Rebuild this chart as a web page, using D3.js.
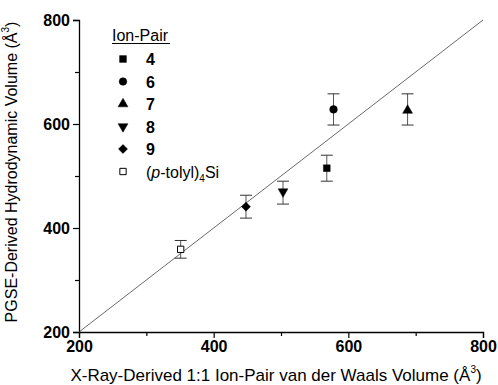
<!DOCTYPE html>
<html>
<head>
<meta charset="utf-8">
<script src="https://cdn.jsdelivr.net/npm/d3@7"></script>
<style>
  body { margin: 0; background: #fff; }
  svg { display: block; font-family: "Liberation Sans", Arial, sans-serif; }
</style>
</head>
<body>
<div id="chart"></div>
<script>
// values
const pairLabels = ['4', '6', '7', '8', '9', '(p-tolyl)4Si'];
const markerKinds = ['square', 'circle', 'triangle', 'down', 'diamond', 'open'];
const xRayVolume = [568, 578, 688, 503, 448, 351];
const pgseVolume = [515, 628, 628, 468, 441, 359];
const pgseError = [25, 30, 30, 22, 22, 17];
const majorTicks = [200, 400, 600, 800];
const minorTicks = [300, 500, 700];

const width = 498, height = 385;
const margin = { top: 20, right: 15, bottom: 53, left: 79 };
const FONT = '"Liberation Sans", Arial, sans-serif';

const svg = d3.select('#chart').append('svg')
    .attr('width', width)
    .attr('height', height);

const x = d3.scaleLinear().domain([200, 800]).range([margin.left, 483]);
const y = d3.scaleLinear().domain([200, 800]).range([332, margin.top]);

// axes: minor ticks in their own group, no domain line there
svg.append('g')
    .attr('transform', `translate(0,${y(200)})`)
    .call(d3.axisBottom(x).tickValues(minorTicks).tickSize(4).tickFormat(''))
    .call((g) => g.select('.domain').remove());
svg.append('g')
    .attr('transform', `translate(${x(200)},0)`)
    .call(d3.axisLeft(y).tickValues(minorTicks).tickSize(4).tickFormat(''))
    .call((g) => g.select('.domain').remove());

const xAxis = svg.append('g')
    .attr('transform', `translate(0,${y(200)})`)
    .call(d3.axisBottom(x).tickValues(majorTicks).tickSize(6).tickPadding(3).tickFormat(d3.format('d')));
const yAxis = svg.append('g')
    .attr('transform', `translate(${x(200)},0)`)
    .call(d3.axisLeft(y).tickValues(majorTicks).tickSize(6).tickPadding(3).tickFormat(d3.format('d')));

[xAxis, yAxis].forEach((g) => {
    g.attr('font-family', FONT).attr('font-size', 16).attr('font-weight', 'bold');
    g.selectAll('.tick text').attr('fill', '#000');
});
svg.selectAll('.tick line').attr('stroke', '#000').attr('stroke-width', 1.2);
svg.selectAll('.domain').attr('stroke', '#000').attr('stroke-width', 1.3);

// y = x reference line
svg.append('line')
    .attr('x1', x(200)).attr('y1', y(200))
    .attr('x2', x(800)).attr('y2', y(800))
    .attr('stroke', '#444')
    .attr('stroke-width', 0.8);

// error bars
const points = pairLabels.map((label, i) => ({
    label: label,
    kind: markerKinds[i],
    xv: xRayVolume[i],
    yv: pgseVolume[i],
    err: pgseError[i]
}));

const bars = svg.append('g');
points.forEach((p) => {
    const cx = x(p.xv);
    bars.append('line')
        .attr('x1', cx).attr('x2', cx)
        .attr('y1', y(p.yv - p.err)).attr('y2', y(p.yv + p.err))
        .attr('stroke', '#555').attr('stroke-width', 1);
    [p.yv - p.err, p.yv + p.err].forEach((v) => {
        bars.append('line')
            .attr('x1', cx - 6).attr('x2', cx + 6)
            .attr('y1', y(v)).attr('y2', y(v))
            .attr('stroke', '#333').attr('stroke-width', 1);
    });
});

function markerPath(kind) {
    if (kind === 'circle') return d3.symbol(d3.symbolCircle, 46)();
    if (kind === 'triangle' || kind === 'down') return d3.symbol(d3.symbolTriangle, 42)();
    if (kind === 'diamond') return d3.symbol(d3.symbolSquare, 40)();
    if (kind === 'open') return d3.symbol(d3.symbolSquare, 40)();
    return d3.symbol(d3.symbolSquare, 46)();
}
function markerRotate(kind) {
    if (kind === 'down') return 180;
    if (kind === 'diamond') return 45;
    return 0;
}

function drawMarker(g, kind, px, py) {
    g.append('path')
        .attr('d', markerPath(kind))
        .attr('transform', `translate(${px},${py}) rotate(${markerRotate(kind)})`)
        .attr('fill', kind === 'open' ? '#fff' : '#000')
        .attr('stroke', '#000')
        .attr('stroke-width', kind === 'open' ? 1 : 0.5);
}

const marks = svg.append('g');
points.forEach((p) => {
    drawMarker(marks, p.kind, x(p.xv), y(p.yv) + (p.kind === 'triangle' ? 1 : p.kind === 'down' ? -1 : 0));
});

// legend
const legend = svg.append('g').attr('transform', 'translate(112,0)');
legend.append('text')
    .attr('x', 0).attr('y', 40.5)
    .style('font-size', '16px')
    .text('Ion-Pair');
legend.append('line')
    .attr('x1', 0).attr('x2', 58)
    .attr('y1', 43.5).attr('y2', 43.5)
    .attr('stroke', '#000').attr('stroke-width', 1);

points.forEach((p, i) => {
    const ly = 59 + i * 22.5;
    drawMarker(legend, p.kind, 11, ly);
    const t = legend.append('text')
        .attr('x', 34).attr('y', ly + 6)
        .style('font-size', '16px');
    if (p.kind === 'open') {
        t.append('tspan').text('(');
        t.append('tspan').style('font-style', 'italic').text('p');
        t.append('tspan').text('-tolyl)');
        t.append('tspan').attr('dy', 4).style('font-size', '10px').text('4');
        t.append('tspan').attr('dy', -4).text('Si');
    } else {
        t.style('font-weight', 'bold').text(p.label);
    }
});

// axis titles
const xt = svg.append('text')
    .attr('x', 276).attr('y', 381)
    .attr('text-anchor', 'middle')
    .style('font-size', '17px');
xt.append('tspan').text('X-Ray-Derived 1:1 Ion-Pair van der Waals Volume (Å');
xt.append('tspan').attr('dy', -8).style('font-size', '10px').text('3');
xt.append('tspan').attr('dy', 8).text(')');

const yt = svg.append('text')
    .attr('transform', 'translate(17,172) rotate(-90)')
    .attr('text-anchor', 'middle')
    .style('font-size', '16px');
yt.append('tspan').text('PGSE-Derived Hydrodynamic Volume (Å');
yt.append('tspan').attr('dy', -8).style('font-size', '10px').text('3');
yt.append('tspan').attr('dy', 8).text(')');
</script>
</body>
</html>
